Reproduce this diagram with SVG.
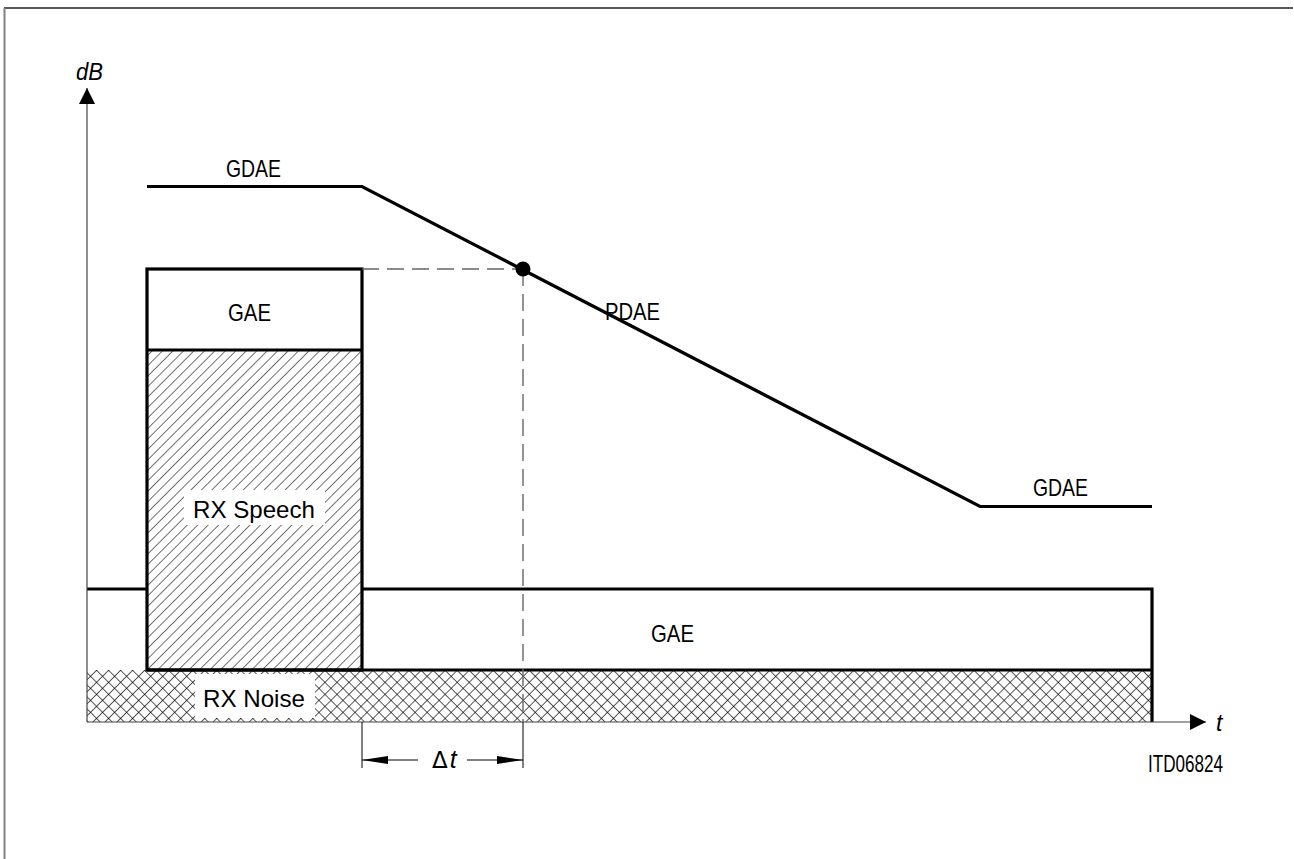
<svg xmlns="http://www.w3.org/2000/svg" width="1294" height="859" viewBox="0 0 1294 859">
<style>
.thick{fill:none;stroke:#000;stroke-width:3.2;stroke-linecap:butt}
.thin{fill:none;stroke:#000;stroke-width:1}
.axis{fill:none;stroke:#444;stroke-width:1.2}
.dash{fill:none;stroke:#666;stroke-width:1.4;stroke-dasharray:17 8}
.lbl{font-family:"Liberation Sans",Arial,sans-serif;font-size:24px;fill:#000}
.it{font-family:"Liberation Sans",Arial,sans-serif;font-style:italic;font-size:23px;fill:#000}
</style>
<defs>
<pattern id="hatch" patternUnits="userSpaceOnUse" width="7.4" height="7.4" patternTransform="rotate(45)">
<line x1="0" y1="0" x2="0" y2="7.4" stroke="#000" stroke-width="1.1"/>
</pattern>
<pattern id="cross" patternUnits="userSpaceOnUse" width="8.5" height="8.5" patternTransform="rotate(45 87 670)">
<line x1="0" y1="0" x2="0" y2="8.5" stroke="#000" stroke-width="1.3"/>
<line x1="0" y1="0" x2="8.5" y2="0" stroke="#000" stroke-width="1.3"/>
</pattern>
<marker id="arr" viewBox="0 0 16 16" refX="16" refY="8" markerWidth="16" markerHeight="16" markerUnits="userSpaceOnUse" orient="auto">
<path d="M0,0 L16,8 L0,16 Z" fill="#000"/>
</marker>
<marker id="dimarr" viewBox="0 0 26 10" refX="26" refY="5" markerWidth="26" markerHeight="10" markerUnits="userSpaceOnUse" orient="auto">
<path d="M0,1 L26,5 L0,9 Z" fill="#000"/>
</marker>
</defs>
<rect width="1294" height="859" fill="#fff"/>
<g id="frame">
<line x1="4" y1="8" x2="1293" y2="8" stroke="#222" stroke-width="1.5"/>
<line x1="4.5" y1="8" x2="4.5" y2="859" stroke="#808080" stroke-width="2"/>
</g>
<g id="noise">
<rect x="87" y="670" width="1065" height="52" fill="url(#cross)"/>
<rect x="195" y="674" width="120" height="44" fill="#fff"/>
<text class="lbl" x="203" y="707" textLength="102" lengthAdjust="spacingAndGlyphs">RX  Noise</text>
</g>
<g id="speech">
<rect x="147" y="350" width="215" height="320" fill="url(#hatch)"/>
<rect x="184" y="490" width="141" height="35" fill="#fff"/>
<text class="lbl" x="193" y="518" textLength="122" lengthAdjust="spacingAndGlyphs">RX  Speech</text>
<rect x="147" y="269" width="215" height="401" class="thick"/>
<line x1="147" y1="350" x2="362" y2="350" class="thick"/>
<text class="lbl" x="228" y="321" textLength="43" lengthAdjust="spacingAndGlyphs">GAE</text>
</g>
<g id="gae-bottom">
<polyline points="87,589 147,589" class="thick"/>
<polyline points="362,589 1152,589 1152,722" class="thick"/>
<line x1="147" y1="670" x2="1152" y2="670" class="thick"/>
<text class="lbl" x="651" y="642" textLength="43" lengthAdjust="spacingAndGlyphs">GAE</text>
</g>
<g id="gdae">
<polyline points="147,186.5 362,186.5 980,506.5 1152,506.5" class="thick"/>
<text class="lbl" x="226" y="177" textLength="55" lengthAdjust="spacingAndGlyphs">GDAE</text>
<text class="lbl" x="605" y="320" textLength="55" lengthAdjust="spacingAndGlyphs">PDAE</text>
<text class="lbl" x="1033" y="496" textLength="55" lengthAdjust="spacingAndGlyphs">GDAE</text>
</g>
<g id="connectors">
<line x1="87" y1="722" x2="87" y2="88" class="axis" marker-end="url(#arr)"/>
<line x1="87" y1="722" x2="1206" y2="722" class="axis" marker-end="url(#arr)"/>
<line x1="362" y1="269" x2="523" y2="269" class="dash"/>
<line x1="523" y1="269" x2="523" y2="722" class="dash"/>
<line x1="362" y1="722" x2="362" y2="768" class="thin"/>
<line x1="523" y1="722" x2="523" y2="768" class="thin"/>
<line x1="418" y1="760" x2="362" y2="760" class="thin" marker-end="url(#dimarr)"/>
<line x1="467" y1="760" x2="523" y2="760" class="thin" marker-end="url(#dimarr)"/>
<circle cx="523" cy="269" r="7.5" fill="#000"/>
</g>
<g id="labels">
<text class="it" x="76" y="80" textLength="27" lengthAdjust="spacingAndGlyphs">dB</text>
<text class="it" x="1216" y="731" font-size="25">t</text>
<text class="lbl" x="432" y="768"><tspan font-family="DejaVu Sans,sans-serif" font-size="23">Δ</tspan><tspan font-style="italic" font-size="25" dx="2">t</tspan></text>
<text class="lbl" x="1148" y="772" font-size="19" textLength="75" lengthAdjust="spacingAndGlyphs">ITD06824</text>
</g>
</svg>
